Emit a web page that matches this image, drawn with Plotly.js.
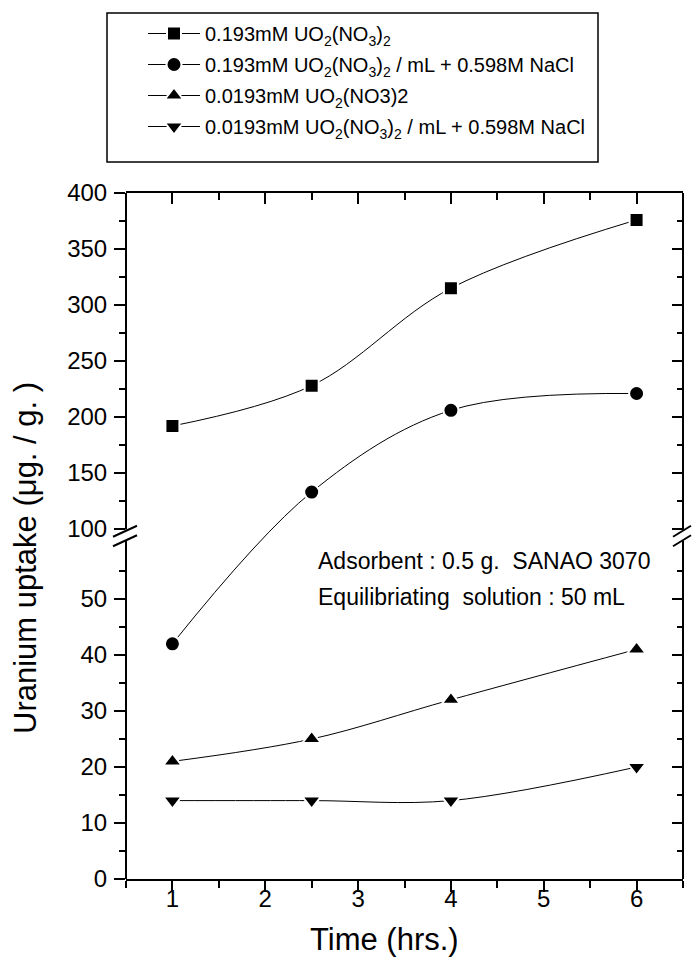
<!DOCTYPE html>
<html>
<head>
<meta charset="utf-8">
<script src="https://cdn.plot.ly/plotly-3.0.1.min.js"></script>
<style>html,body{margin:0;padding:0;background:#fff;}#chart{width:692px;height:958px;}</style>
</head>
<body>
<div id="chart"></div>
<script>
// ---- data ----
const timeHrs = [1, 2.5, 4, 6];
const uptakeHighConc = [192, 228, 315, 376];
const uptakeHighConcNaCl = [42, 133, 206, 221];
const uptakeLowConc = [21, 25, 32, 41];
const uptakeLowConcNaCl = [14, 14, 14, 20];

const seriesNames = [
  "0.193mM UO<sub>2</sub>(NO<sub>3</sub>)<sub>2</sub>",
  "0.193mM UO<sub>2</sub>(NO<sub>3</sub>)<sub>2</sub> / mL + 0.598M NaCl",
  "0.0193mM UO<sub>2</sub>(NO3)2",
  "0.0193mM UO<sub>2</sub>(NO<sub>3</sub>)<sub>2</sub> / mL + 0.598M NaCl"
];
const seriesSymbols = ["square", "circle", "triangle-up", "triangle-down"];

const xTickVals = [1, 2, 3, 4, 5, 6];
const xMinorVals = [0.5, 1.5, 2.5, 3.5, 4.5, 5.5, 6.5];
const yTicksLower = [0, 10, 20, 30, 40, 50];
const yTicksUpper = [100, 150, 200, 250, 300, 350, 400];
const yMinorLower = [5, 15, 25, 35, 45, 55];
const yMinorUpper = [125, 175, 225, 275, 325, 375];

// ---- broken-axis scale: 0..60 linear, then 100..400 compressed ----
const LOW_MAX = 60, UP_MIN = 100, UP_START = 62.5, UP_FACTOR = 0.2;
function brokenScale(v) {
  return v <= (LOW_MAX + UP_MIN) / 2 ? v : UP_START + (v - UP_MIN) * UP_FACTOR;
}
const Y_TOP = brokenScale(400);

const allData = [uptakeHighConc, uptakeHighConcNaCl, uptakeLowConc, uptakeLowConcNaCl];
const markerSizes = [14, 15, 16, 16];

const traces = allData.map((vals, i) => ({
  type: "scatter",
  mode: "lines+markers",
  x: timeHrs,
  y: vals.map(brokenScale),
  customdata: vals,
  hovertemplate: "%{x} h: %{customdata}<extra></extra>",
  name: seriesNames[i],
  line: {color: "black", width: 1, shape: "spline", smoothing: 1},
  marker: {symbol: seriesSymbols[i], size: markerSizes[i], color: "black",
           line: {color: "white", width: 2}},
  legendgroup: "g" + i
}));
// placeholder trace so the mirrored top/right axes are drawn
traces.push({type: "scatter", mode: "none", x: [], y: [], xaxis: "x2", yaxis: "y2",
  showlegend: false, hoverinfo: "skip"});

const tickFont = {family: "Liberation Sans, Arial, sans-serif", size: 24, color: "black"};
const allYTicks = yTicksLower.concat(yTicksUpper);
const allYMinor = yMinorLower.concat(yMinorUpper);

const yCommon = {
  range: [0, Y_TOP],
  tickmode: "array",
  tickvals: allYTicks.map(brokenScale),
  showgrid: false, zeroline: false, showline: false,
  ticklen: 11, tickwidth: 2, tickcolor: "black",
  minor: {tickmode: "array", tickvals: allYMinor.map(brokenScale), ticklen: 6, tickwidth: 2, tickcolor: "black", showgrid: false},
  fixedrange: true
};

// axis line segments and break marks
const lineStyle = {color: "black", width: 2};
const pxX = 1 / 557, pxY = 1 / 5.6;
const shapes = [];
[0, 1].forEach(side => {
  shapes.push({type: "line", xref: "paper", yref: "y", x0: side, x1: side, y0: 0, y1: LOW_MAX + 0.4, line: lineStyle});
  shapes.push({type: "line", xref: "paper", yref: "y", x0: side, x1: side, y0: UP_START - 0.1, y1: Y_TOP, line: lineStyle});
  const xl = side === 0 ? -13 * pxX : 1 - 10 * pxX;
  const xr = side === 0 ? 11 * pxX : 1 + 8 * pxX;
  shapes.push({type: "line", xref: "paper", yref: "y", x0: xl, x1: xr, y0: UP_START - 0.4 - 11 * pxY * 0.5, y1: UP_START - 0.4 + 11 * pxY * 0.5, line: lineStyle});
  shapes.push({type: "line", xref: "paper", yref: "y", x0: xl, x1: xr, y0: LOW_MAX + 0.4 - 11 * pxY * 0.5, y1: LOW_MAX + 0.4 + 11 * pxY * 0.5, line: lineStyle});
});
// legend frame
shapes.push({type: "rect", xref: "paper", yref: "paper",
  x0: (107 - 126) / 557, x1: (598 - 126) / 557,
  y0: (879 - 162) / 686, y1: (879 - 13) / 686,
  line: {color: "black", width: 1.5}, fillcolor: "rgba(0,0,0,0)"});

const layout = {
  width: 692, height: 958,
  margin: {l: 126, r: 9, t: 193, b: 79, pad: 0},
  paper_bgcolor: "white", plot_bgcolor: "white",
  font: {family: "Liberation Sans, Arial, sans-serif", color: "black"},
  showlegend: true,
  legend: {
    x: (143 - 126) / 557, y: (879 - 14) / 686, xanchor: "left", yanchor: "top",
    bgcolor: "rgba(0,0,0,0)", borderwidth: 0,
    font: {family: "Liberation Sans, Arial, sans-serif", size: 20, color: "black"},
    traceorder: "grouped", tracegroupgap: 2, itemwidth: 52
  },
  xaxis: {
    range: [0.5, 6.5], tickmode: "array", tickvals: xTickVals,
    ticks: "outside", ticklen: 11, tickwidth: 2, tickcolor: "black",
    minor: {tickmode: "array", tickvals: xMinorVals, ticks: "outside", ticklen: 7, tickwidth: 2, tickcolor: "black", showgrid: false},
    showline: true, linewidth: 2, linecolor: "black", ticklabelstandoff: -14,
    showgrid: false, zeroline: false, tickfont: tickFont, fixedrange: true
  },
  xaxis2: {
    overlaying: "x", side: "top", anchor: "y2", range: [0.5, 6.5], tickmode: "array", tickvals: xTickVals,
    ticks: "inside", ticklen: 11, tickwidth: 2, tickcolor: "black",
    minor: {tickmode: "array", tickvals: xMinorVals, ticks: "inside", ticklen: 7, tickwidth: 2, tickcolor: "black", showgrid: false},
    showticklabels: false, showline: true, linewidth: 2, linecolor: "black",
    showgrid: false, zeroline: false, fixedrange: true
  },
  yaxis: Object.assign({}, yCommon, {
    ticks: "outside", ticktext: allYTicks.map(String), tickfont: tickFont, ticklabelstandoff: 2,
    minor: Object.assign({}, yCommon.minor, {ticks: "outside"})
  }),
  yaxis2: Object.assign({}, yCommon, {
    overlaying: "y", side: "right", anchor: "x2", ticks: "inside", showticklabels: false,
    minor: Object.assign({}, yCommon.minor, {ticks: "inside"})
  }),
  shapes: shapes,
  annotations: [
    {text: "Uranium uptake (μg. / g. )", xref: "paper", yref: "paper",
     x: (25 - 126) / 557, y: (879 - 558) / 686, xanchor: "center", yanchor: "middle",
     textangle: -90, showarrow: false, font: {size: 31}},
    {text: "Time (hrs.)", xref: "paper", yref: "paper",
     x: (384 - 126) / 557, y: (879 - 940) / 686, xanchor: "center", yanchor: "middle",
     showarrow: false, font: {size: 31}},
    {text: "Adsorbent : 0.5 g.\u00a0\u00a0SANAO 3070", xref: "paper", yref: "paper",
     x: (316 - 126) / 557, y: (879 - 561) / 686, xanchor: "left", yanchor: "middle",
     showarrow: false, font: {size: 23}},
    {text: "Equilibriating\u00a0\u00a0solution : 50 mL", xref: "paper", yref: "paper",
     x: (316 - 126) / 557, y: (879 - 597) / 686, xanchor: "left", yanchor: "middle",
     showarrow: false, font: {size: 23}}
  ]
};

Plotly.newPlot("chart", traces, layout, {displayModeBar: false, staticPlot: true});
</script>
</body>
</html>
